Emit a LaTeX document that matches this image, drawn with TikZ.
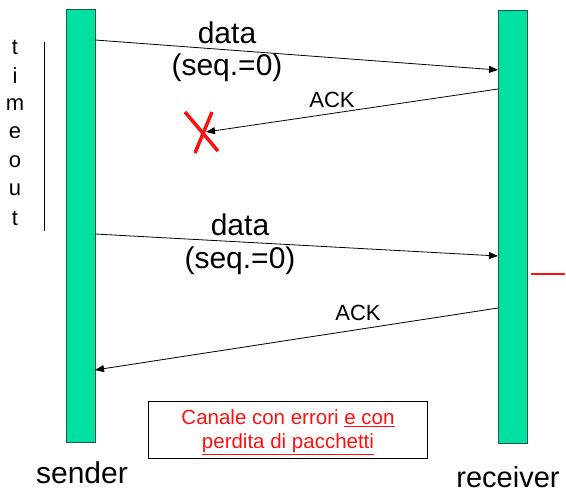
\documentclass[tikz,border=0pt]{standalone}
\usepackage{fontspec}
\setmainfont{Liberation Sans}
\usetikzlibrary{arrows.meta}
\definecolor{bar}{HTML}{00E0A0}
\definecolor{barline}{HTML}{1E5A46}
\definecolor{lossred}{HTML}{FF1010}
\begin{document}
\begin{tikzpicture}[x=1pt,y=-1pt,
  lifeline/.style={draw=barline,line width=1pt,fill=bar},
  msg/.style={draw=black,line width=0.8pt,-{Triangle[length=9pt,width=7pt]}},
  big/.style={font=\fontsize{30}{34}\selectfont,inner sep=0pt},
  mid/.style={font=\fontsize{22}{26}\selectfont,inner sep=0pt},
  tletter/.style={font=\fontsize{22}{26}\selectfont,inner sep=0pt}]
\useasboundingbox (0,0) rectangle (566,492);
% lifelines
\draw[lifeline] (66,10) rectangle (95,442);
\draw[lifeline] (498,11) rectangle (527,443);
% anchor points on the lifelines
\coordinate (s1) at (95,40);
\coordinate (r1) at (498,70);
\coordinate (r2) at (498,89);
\coordinate (lost) at (206,132);
\coordinate (s3) at (95,234);
\coordinate (r3) at (498,256);
\coordinate (r4) at (498,308);
\coordinate (s4) at (95,370);
% messages
\draw[msg] (s1) -- (r1);
\draw[msg] (r2) -- (lost);
\draw[msg] (s3) -- (r3);
\draw[msg] (r4) -- (s4);
% lost ACK marker
\draw[lossred,line width=3.5pt] (185,112) -- (218,151);
\draw[lossred,line width=3.5pt] (212,112) -- (195,153);
% labels
\node[big] (d1) at (227,33) {data};
\node[big] (q1) at (227,68) {(seq.=0)};
\node[mid] (a1) at (332,100) {ACK};
\node[big] (d2) at (240,225) {data};
\node[big] (q2) at (240,261) {(seq.=0)};
\node[mid] (a2) at (358,313) {ACK};
% timeout
\draw[black,line width=0.8pt] (44,42) -- (44,231);
\foreach \c [count=\i] in {t,i,m,e,o,u,t}
  \node[tletter] (to\i) at (15,{47+28.6*(\i-1)}) {\c};
% short red mark next to the receiver
\draw[draw=lossred,line width=1.6pt] (531,274) -- (565,274);
% channel note
\node[draw=black,line width=1pt,minimum width=279pt,minimum height=57pt,inner sep=0pt] (note) at (287.5,430) {};
\node[text=lossred,align=center,font=\fontsize{20.5}{24}\selectfont] (notetxt) at (288,432)
  {Canale con errori \underline{e con}\\\underline{perdita di pacchetti}};
% endpoints
\node[big] (snd) at (82,473) {sender};
\node[big,font=\fontsize{29}{34}\selectfont] (rcv) at (508,477) {receiver};
\end{tikzpicture}
\end{document}
